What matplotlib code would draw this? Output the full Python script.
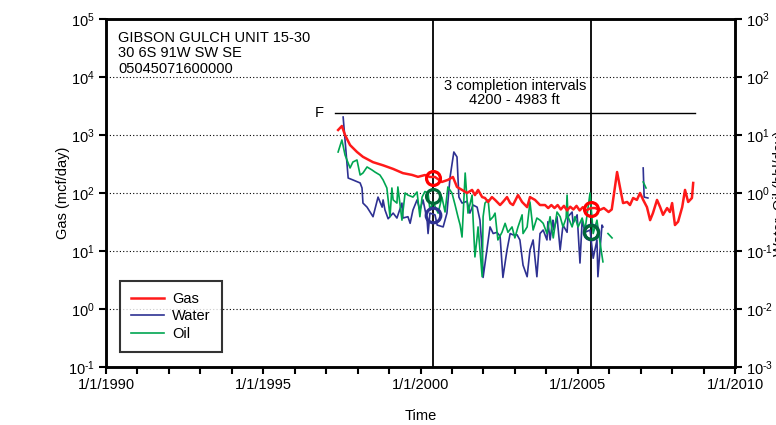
import numpy as np
import matplotlib
matplotlib.use("Agg")
import matplotlib.pyplot as plt
from matplotlib.ticker import FixedLocator, LogLocator, NullLocator, FuncFormatter

plt.rcParams['font.family'] = ['Liberation Sans', 'DejaVu Sans']
plt.rcParams['mathtext.fontset'] = 'custom'
plt.rcParams['mathtext.rm'] = 'Liberation Sans'
plt.rcParams['mathtext.it'] = 'Liberation Sans:italic'
plt.rcParams['axes.unicode_minus'] = False

###################################
# data (decimal year, rate)
###################################
gas_t = [1997.38, 1997.50, 1997.60, 1997.76, 1997.98, 1998.17, 1998.49, 1998.81, 1999.13, 1999.44,
         1999.73, 1999.92, 2000.14, 2000.30, 2000.46, 2000.68, 2000.87, 2001.03, 2001.16, 2001.32,
         2001.48, 2001.64, 2001.73, 2001.83, 2001.96, 2002.05, 2002.15, 2002.27, 2002.37, 2002.53,
         2002.62, 2002.75, 2002.85, 2002.94, 2003.10, 2003.23, 2003.39, 2003.48, 2003.64, 2003.80,
         2003.96, 2004.06, 2004.16, 2004.26, 2004.36, 2004.46, 2004.56, 2004.66, 2004.76, 2004.86,
         2004.96, 2005.06, 2005.16, 2005.26, 2005.42, 2005.55, 2005.70, 2005.83, 2005.98, 2006.08,
         2006.25, 2006.34, 2006.44, 2006.57, 2006.66, 2006.76, 2006.88, 2006.98, 2007.08, 2007.20,
         2007.30, 2007.39, 2007.52, 2007.62, 2007.71, 2007.84, 2007.93, 2008.00, 2008.09, 2008.19,
         2008.32, 2008.41, 2008.51, 2008.63, 2008.67]
gas_v = [1220, 1430, 1000, 670, 510, 420, 340, 300, 260, 220,
         205, 190, 204, 189, 189, 155, 168, 189, 127, 113,
         100, 113, 92, 113, 85, 82, 70, 85, 76, 62,
         70, 85, 67, 62, 92, 70, 57, 85, 76, 62,
         62, 55, 62, 55, 62, 52, 60, 50, 58, 52,
         60, 50, 57, 50, 55, 55, 51, 55, 47, 52,
         230, 127, 67, 70, 62, 82, 76, 100, 76, 57,
         34, 45, 76, 57, 42, 55, 47, 67, 28, 32,
         57, 113, 70, 82, 149]

water_t = [1997.54, 1997.70, 1997.85, 1998.08, 1998.14, 1998.17, 1998.30, 1998.49, 1998.65, 1998.78,
           1998.81, 1998.87, 1998.97, 1999.13, 1999.25, 1999.41, 1999.44, 1999.60, 1999.67, 1999.76,
           1999.89, 1999.98, 2000.08, 2000.21, 2000.24, 2000.30, 2000.46, 2000.53, 2000.72, 2000.84,
           2000.94, 2001.06, 2001.16, 2001.22, 2001.32, 2001.48, 2001.57, 2001.67, 2001.80, 2001.89,
           2001.96, 2001.99, 2002.11, 2002.21, 2002.31, 2002.43, 2002.53, 2002.62, 2002.75, 2002.85,
           2002.94, 2003.07, 2003.16, 2003.26, 2003.39, 2003.48, 2003.58, 2003.70, 2003.80, 2003.90,
           2004.02, 2004.05, 2004.12, 2004.18, 2004.21, 2004.24, 2004.34, 2004.44, 2004.53, 2004.66,
           2004.69, 2004.82, 2004.85, 2004.98, 2005.07, 2005.14, 2005.23, 2005.39, 2005.49, 2005.61,
           2005.64, 2005.77, 2005.80, 2006.5,
           2007.08, 2007.11, 2007.23]
water_v = [2040, 181, 168, 149, 122, 67, 57, 39, 85, 57,
           76, 51, 36, 45, 37, 67, 37, 39, 30, 51,
           76, 51, 76, 34, 20, 45, 42, 28, 26, 45,
           189, 509, 418, 85, 67, 72, 45, 62, 57, 34,
           10.4, 3.5, 10.4, 26, 20, 21, 18, 3.5, 10.4, 20,
           19, 19, 15.5, 5.7, 3.6, 10.4, 15.5, 3.6, 20, 23,
           15.5, 32, 15.5, 28, 34, 23, 39, 10.4, 28, 21,
           39, 47, 30, 42, 6.2, 34, 21, 23, 7.5, 15.5,
           3.6, 28, 26, np.nan,
           270, 85, 82]

oil_t = [1997.38, 1997.50, 1997.60, 1997.76, 1997.85, 1997.98, 1998.08, 1998.17, 1998.30, 1998.46,
         1998.55, 1998.71, 1998.81, 1998.93, 1999.03, 1999.09, 1999.13, 1999.25, 1999.28, 1999.41,
         1999.51, 1999.60, 1999.76, 1999.89, 1999.98, 2000.05, 2000.14, 2000.24, 2000.30, 2000.40,
         2000.56, 2000.68, 2000.78, 2000.87, 2001.00, 2001.10, 2001.19, 2001.26, 2001.32, 2001.42,
         2001.51, 2001.64, 2001.67, 2001.73, 2001.80, 2001.83, 2001.96, 2001.99, 2002.05, 2002.15,
         2002.21, 2002.31, 2002.37, 2002.46, 2002.59, 2002.69, 2002.78, 2002.91, 2003.00, 2003.10,
         2003.23, 2003.26, 2003.39, 2003.48, 2003.58, 2003.70, 2003.80, 2003.90, 2004.02, 2004.12,
         2004.22, 2004.34, 2004.44, 2004.53, 2004.63, 2004.66, 2004.69, 2004.82, 2004.91, 2005.01,
         2005.14, 2005.23, 2005.39, 2005.49, 2005.61, 2005.71, 2005.80, 2005.88,
         2005.96, 2006.09, 2006.5,
         2007.08, 2007.17]
oil_v = [509, 820, 452, 270, 342, 371, 204, 221, 281, 249,
         230, 204, 168, 122, 39, 122, 76, 67, 127, 34,
         100, 92, 85, 104, 39, 85, 106, 100, 51, 70,
         45, 85, 47, 127, 100, 62, 39, 28, 17.4, 221,
         45, 92, 37, 7.9, 17.4, 26, 3.6, 39, 67, 76,
         34, 39, 45, 15.5, 21, 30, 21, 26, 16.8, 26,
         42, 20, 26, 70, 23, 37, 34, 30, 20, 39,
         16.8, 47, 39, 26, 37, 92, 39, 26, 39, 26,
         37, 23, 100, 20, 34, 13.7, 6.5, np.nan,
         20, 16.8, np.nan,
         155, 122]

# workover / completion markers
well_events = [2000.40, 2005.42]
gas_marks = [181, 53]
oil_marks = [89, 21]
water_marks = [42, 21]

flag_start, flag_end, flag_level = 1997.28, 2008.73, 2400

year_ticks = [1990, 1995, 2000, 2005, 2010]
year_labels = ["1/1/1990", "1/1/1995", "1/1/2000", "1/1/2005", "1/1/2010"]


def pow10(v, pos):
    # hyphen instead of the minus sign, as in the original
    e = int(round(np.log10(v)))
    s = str(e).replace('-', '\u2010')
    return r"$10^{%s}$" % s


###################################
# plot
###################################
fig = plt.figure(figsize=(7.76, 4.25), dpi=100)
ax = fig.add_axes([0.1366, 0.1365, 0.8106, 0.8188])

red = '#ff1a1a'
navy = '#2e3192'
green = '#00a651'

ax.plot(gas_t, gas_v, color=red, lw=1.8, label='Gas', zorder=4)
ax.plot(water_t, water_v, color=navy, lw=1.2, label='Water', zorder=3)
ax.plot(oil_t, oil_v, color=green, lw=1.2, label='Oil', zorder=3)

ax.plot(well_events, water_marks, 'o', ms=10.5, mfc='none', mec=navy, mew=2.3, zorder=5)
ax.plot(well_events, oil_marks, 'o', ms=10, mfc='none', mec='#006837', mew=2.3, zorder=6)
ax.plot(well_events, gas_marks, 'o', ms=10, mfc='none', mec='#ff0000', mew=2.3, zorder=6)

for t in well_events:
    ax.axvline(t, color='black', lw=1.3, zorder=2)
ax.plot([flag_start, flag_end], [flag_level, flag_level], color='black', lw=1.0)
ax.text(flag_start - 0.5, flag_level, "F", ha='center', va='center', fontsize=10.5)
ax.text(2003.0, 5300, "3 completion intervals\n4200 - 4983 ft", ha='center', va='center',
        fontsize=10.5, linespacing=1.0)
ax.text(0.019, 0.965, "GIBSON GULCH UNIT 15-30\n30 6S 91W SW SE\n05045071600000",
        transform=ax.transAxes, ha='left', va='top', fontsize=10.5, linespacing=1.12)

ax.set_yscale('log')
ax.set_ylim(1e-1, 1e5)
ax.set_xlim(1990, 2010)
ax.yaxis.set_major_locator(LogLocator(base=10, numticks=10))
ax.yaxis.set_minor_locator(NullLocator())
ax.yaxis.set_major_formatter(FuncFormatter(pow10))
ax.xaxis.set_major_locator(FixedLocator(year_ticks))
ax.xaxis.set_minor_locator(FixedLocator(range(1990, 2011)))
ax.set_xticklabels(year_labels)
ax.grid(axis='y', which='major', color='black', ls=(0, (1, 2)), lw=0.8)

for s in ax.spines.values():
    s.set_linewidth(1.8)
ax.tick_params(which='both', direction='out', length=5, width=1.5, labelsize=10.5, pad=3)
ax.tick_params(axis='x', which='minor', length=5, width=1.5)

ax.set_xlabel("Time", fontsize=10.5, labelpad=12)
ax.set_ylabel("Gas (mcf/day)", fontsize=10.5)
ax.yaxis.set_label_coords(-0.057, 0.5)

ax2 = ax.twinx()
ax2.set_yscale('log')
ax2.set_ylim(1e-3, 1e3)
ax2.yaxis.set_major_locator(LogLocator(base=10, numticks=10))
ax2.yaxis.set_minor_locator(NullLocator())
ax2.yaxis.set_major_formatter(FuncFormatter(pow10))
ax2.tick_params(which='both', direction='out', length=5, width=1.5, labelsize=10.5, pad=3)
for s in ax2.spines.values():
    s.set_linewidth(1.8)
fig.text(0.9965, 0.545, "Water, Oil (bbl/day)", rotation=90, ha='left', va='center', fontsize=10.5)

leg = ax.legend(loc='lower left', bbox_to_anchor=(0.022, 0.043), fontsize=10.5, frameon=True,
                fancybox=False, handlelength=2.3, borderpad=0.75, labelspacing=0.25,
                borderaxespad=0, handletextpad=0.55)
leg.get_frame().set_edgecolor('black')
leg.get_frame().set_linewidth(1.5)

plt.savefig("out.png", dpi=100)
print("all done")
